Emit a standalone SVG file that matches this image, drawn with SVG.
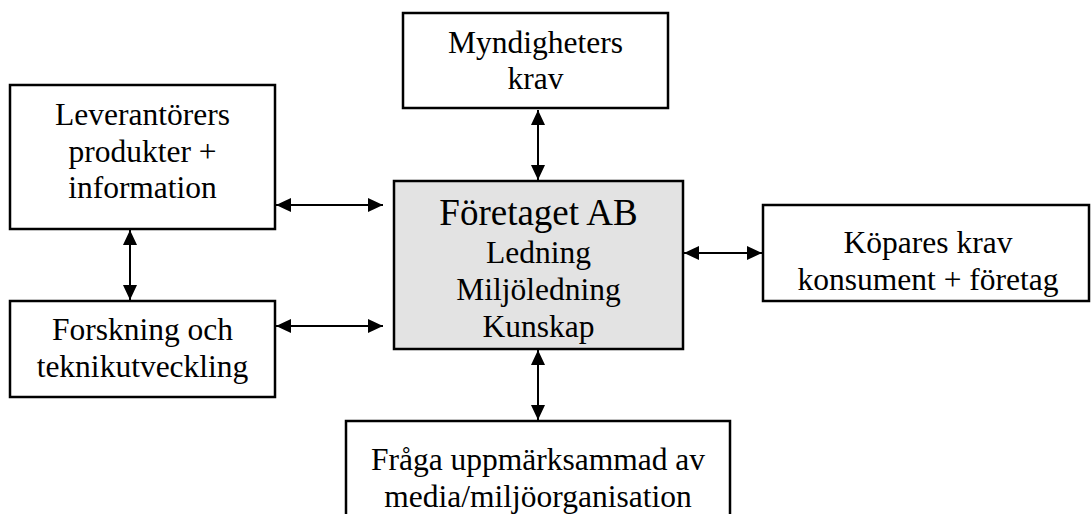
<svg xmlns="http://www.w3.org/2000/svg" width="1091" height="514" viewBox="0 0 1091 514">
<style>
.box{fill:#ffffff;stroke:#000000;stroke-width:2.5}
.main{fill:#e3e3e3;stroke:#000000;stroke-width:2.5}
text{font-family:"Liberation Serif","Times New Roman",serif;font-size:31.5px;fill:#000000;text-anchor:middle}
.title{font-size:37px}
.conn line{stroke:#000000;stroke-width:2;marker-start:url(#ah);marker-end:url(#ah)}
</style>
<defs>
<marker id="ah" markerUnits="userSpaceOnUse" markerWidth="16" markerHeight="16" refX="15" refY="8" orient="auto-start-reverse" viewBox="0 0 16 16">
<path d="M0,1 L15,8 L0,15 z" fill="#000000"/>
</marker>
</defs>
<rect width="1091" height="514" fill="#ffffff"/>
<g id="myndigheter">
<rect class="box" x="403" y="13" width="265" height="95"/>
<text x="535.5" y="53">Myndigheters</text>
<text x="535.5" y="89">krav</text>
</g>
<g id="leverantorer">
<rect class="box" x="10" y="85" width="265" height="144"/>
<text x="142.5" y="125">Leverantörers</text>
<text x="142.5" y="162">produkter +</text>
<text x="142.5" y="198">information</text>
</g>
<g id="forskning">
<rect class="box" x="10" y="301" width="265" height="96"/>
<text x="142.5" y="340">Forskning och</text>
<text x="142.5" y="377">teknikutveckling</text>
</g>
<g id="foretaget">
<rect class="main" x="394" y="181" width="289" height="168"/>
<text class="title" x="538.5" y="225">Företaget AB</text>
<text x="538.5" y="263">Ledning</text>
<text x="538.5" y="300">Miljöledning</text>
<text x="538.5" y="337">Kunskap</text>
</g>
<g id="kopare">
<rect class="box" x="763" y="205" width="326" height="96"/>
<text x="928" y="253">Köpares krav</text>
<text x="928" y="290">konsument + företag</text>
</g>
<g id="fraga">
<rect class="box" x="346" y="421" width="384" height="110"/>
<text x="538" y="470">Fråga uppmärksammad av</text>
<text x="538" y="507">media/miljöorganisation</text>
</g>
<g id="connectors" class="conn">
<line x1="538" y1="110" x2="538" y2="180"/>
<line x1="276" y1="205" x2="383" y2="205"/>
<line x1="130" y1="230" x2="130" y2="300"/>
<line x1="276" y1="326" x2="383" y2="326"/>
<line x1="684" y1="253" x2="762" y2="253"/>
<line x1="538" y1="350" x2="538" y2="420"/>
</g>
</svg>
